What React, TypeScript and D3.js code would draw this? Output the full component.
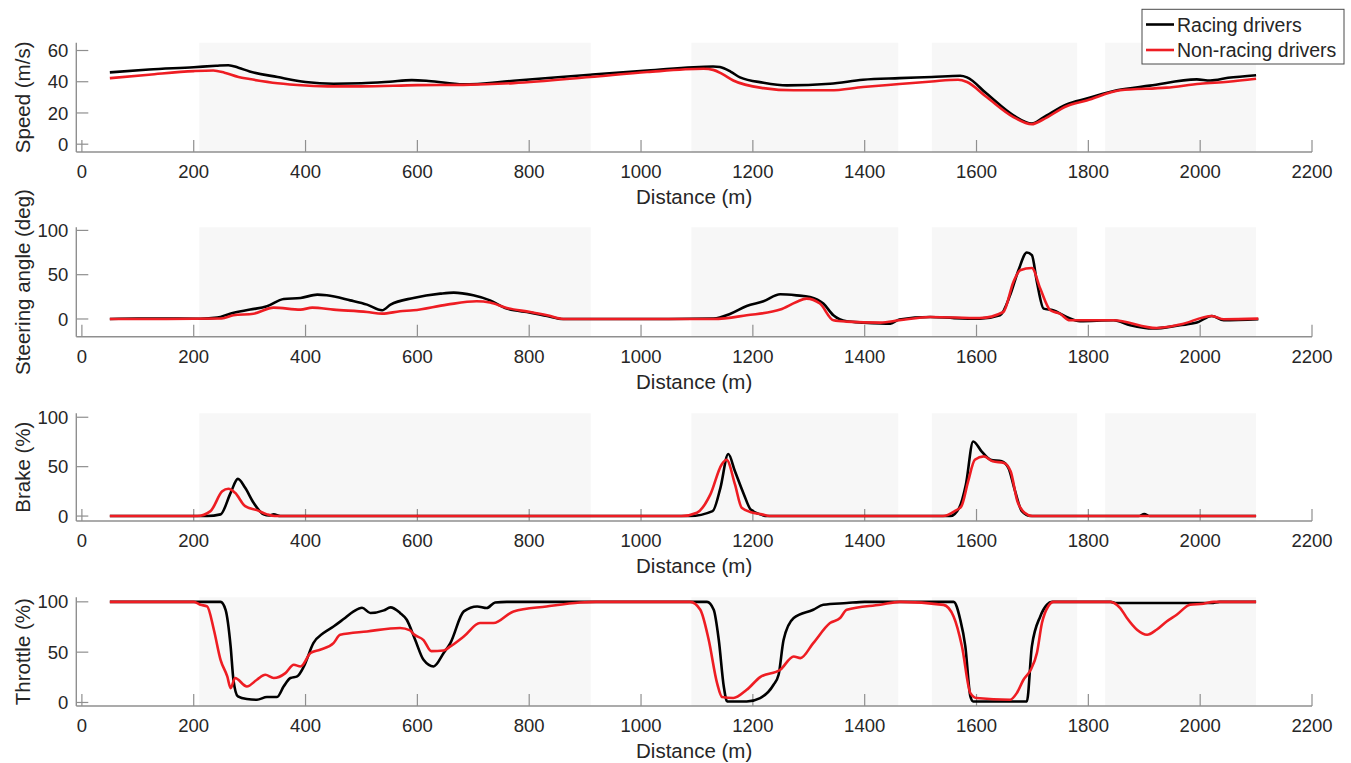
import React from 'react';
import * as d3 from 'd3';

type Pt = [number, number];

// Distance (m) vs value
const speedRacing: Pt[] = [[50,46],[120,47.8],[200,49.3],[240,50.2],[262,50.6],[280,49],[300,46.6],[350,43],[400,39.8],[450,38.7],[500,39],[550,40],[590,41],[620,40.5],[682,38.3],[772,40.6],[909,44.5],[1011,47.2],[1129,49.8],[1141,49.4],[1160,46.5],[1177,42.8],[1219,39.4],[1261,37.7],[1338,38.7],[1397,41.3],[1462,42.3],[1520,43],[1571,43.8],[1583,42.8],[1618,32.4],[1666,18.5],[1699,13.2],[1719,17],[1761,25.5],[1797,29.2],[1851,34.5],[1910,37.5],[1994,41.5],[2018,40.8],[2050,42.5],[2100,44.2]];
const speedNonRacing: Pt[] = [[50,42.3],[120,44.5],[200,46.8],[235,47.2],[255,45.8],[280,43],[300,41.7],[350,39],[400,37.6],[450,37],[500,37],[600,37.8],[682,38],[772,39.1],[909,43],[1011,46.2],[1112,48.3],[1129,47.6],[1145,45],[1165,40.8],[1219,35.9],[1273,34.5],[1338,34.5],[1397,36.6],[1462,38.5],[1520,40.2],[1567,41.3],[1583,39.8],[1618,30.2],[1666,17.4],[1699,12.8],[1719,15.8],[1761,24.3],[1797,28],[1857,34.5],[1940,36.2],[2000,38.7],[2050,40],[2100,41.9]];

const steerRacing: Pt[] = [[50,0],[100,0.5],[150,0.5],[212,0.3],[242,1.5],[265,6],[301,10.6],[331,14.3],[361,22.6],[391,23.7],[421,27.5],[438,26.7],[480,21],[510,16.2],[537,9.8],[552,16.2],[593,23.7],[641,28.6],[665,29.8],[700,26.7],[730,21],[760,11.7],[802,7.2],[832,3.4],[861,0],[950,0],[1050,0],[1130,0.5],[1160,6],[1189,14.7],[1219,20],[1249,27.9],[1278,26.7],[1302,24.8],[1326,17.4],[1344,4.2],[1368,-2.6],[1398,-4.1],[1428,-5],[1446,-5.2],[1462,-0.5],[1517,2.3],[1560,1],[1606,0.4],[1642,4.2],[1660,26.7],[1675,55],[1690,75],[1699,72],[1708,41.8],[1720,11.7],[1737,9.8],[1761,2.3],[1785,-2.6],[1845,-1.5],[1875,-7],[1916,-10.8],[1964,-7],[1994,-4.1],[2021,3.4],[2042,-1.5],[2104,-0.3]];
const steerNonRacing: Pt[] = [[50,0],[150,0],[250,0.5],[271,4.2],[307,6],[343,12.8],[391,10.6],[412,12.8],[450,10.6],[510,7.9],[537,6],[569,8.7],[593,9.8],[653,16.2],[706,20],[730,18.5],[760,12.4],[802,7.9],[832,4.2],[861,0],[1130,0],[1189,4.2],[1249,10.6],[1278,19.2],[1296,23],[1320,17.4],[1344,-1.5],[1368,-3],[1428,-4.1],[1462,-1.5],[1517,2.3],[1606,1.1],[1648,7.9],[1666,41.8],[1678,55],[1699,57.6],[1714,34.3],[1732,9.8],[1749,6],[1767,-1.5],[1845,-1.5],[1922,-10.2],[1964,-6.3],[2021,3.4],[2042,-0.3],[2104,0.4]];

const brakeRacing: Pt[] = [[50,0],[224,0],[248,1.7],[266,23.5],[279,37.6],[292,28.6],[307,13.5],[325,1.7],[335,0.5],[343,1.7],[355,0],[1087,0],[1128,5],[1142,28.6],[1156,62.8],[1168,45.3],[1184,21.9],[1196,6.7],[1216,1.2],[1225,0],[1553,0],[1569,8.4],[1581,32],[1594,75.5],[1609,65.5],[1625,57],[1645,55.4],[1657,48.7],[1669,25.2],[1681,5],[1697,0],[1890,0],[1900,2],[1910,0],[2100,0]];
const brakeNonRacing: Pt[] = [[50,0],[206,0],[230,5],[251,25],[262,27.6],[274,23.5],[292,10],[313,6],[331,1.7],[345,0],[1072,0],[1100,3.4],[1124,21.9],[1144,52],[1153,57],[1168,32],[1180,8.4],[1200,3.4],[1216,1.7],[1230,0],[1540,0],[1561,5],[1573,10],[1585,35],[1597,57],[1613,60.4],[1629,55.4],[1649,53.8],[1661,45.3],[1673,15.1],[1686,3.4],[1700,0],[2100,0]];

const throttleRacing: Pt[] = [[50,100],[248,100],[257,92],[266,55.7],[271,22.6],[279,6],[295,3.4],[313,2.7],[331,5.4],[349,5.4],[361,16],[373,24.3],[385,25.9],[397,35.8],[414,59],[432,69],[450,75.5],[468,82.9],[486,90.5],[501,94.1],[516,88.9],[540,91.5],[552,94.5],[569,89],[581,82.2],[596,62.3],[611,42.4],[629,35.8],[647,49.1],[659,59],[683,90.5],[707,95.4],[724,93.8],[739,99.4],[760,100],[1118,100],[1130,92.1],[1139,62.3],[1148,15.9],[1154,1],[1189,1],[1213,4.4],[1237,17.6],[1246,27.5],[1255,62.3],[1273,83.9],[1308,92.1],[1326,97.1],[1368,98.8],[1400,100],[1559,100],[1571,82.2],[1580,55.7],[1589,6],[1594,1],[1690,1],[1699,55.7],[1714,85.5],[1726,97.1],[1735,100],[1840,100],[1850,98.8],[2020,98.8],[2035,100],[2100,100]];
const throttleNonRacing: Pt[] = [[50,100],[200,100],[212,97.1],[224,95.4],[236,72.3],[248,42.4],[260,25.9],[266,14.3],[274,24.3],[295,15.9],[313,22.6],[328,27.5],[343,24.3],[364,29.2],[379,37.5],[391,35.8],[409,49.1],[426,52.4],[450,59],[462,67.3],[510,70.6],[569,74],[587,71.6],[593,68],[611,62],[625,51],[647,51.7],[659,55.7],[683,65.6],[712,78.9],[736,78.9],[772,90.5],[831,95.4],[891,99.4],[920,100],[1088,100],[1106,92.1],[1121,62.3],[1136,19.3],[1145,5.4],[1165,4.4],[1189,12.6],[1213,25.2],[1249,32.5],[1273,45.7],[1285,44.1],[1308,59],[1338,78.9],[1356,83.9],[1368,92.1],[1428,97.1],[1463,100],[1541,97],[1559,85.5],[1574,55.7],[1589,9.3],[1600,4.4],[1660,2.7],[1672,9.3],[1684,22.6],[1697,32.5],[1708,49.1],[1717,78.9],[1728,95.4],[1738,100],[1839,100],[1857,93.8],[1869,83.9],[1887,72.3],[1905,67.3],[1922,72.3],[1940,80.5],[1958,87.2],[1982,97.1],[2006,98.1],[2024,100],[2100,100]];

// shaded sections of the track (m)
const sections: Pt[] = [[210, 910], [1090, 1460], [1520, 1780], [1830, 2100]];
const xTicks = [0, 200, 400, 600, 800, 1000, 1200, 1400, 1600, 1800, 2000, 2200];
const legendLabels = ['Racing drivers', 'Non-racing drivers'];

interface PanelDef {
  label: string;
  top: number;
  bottom: number;
  domain: [number, number];
  ticks: number[];
  racing: Pt[];
  nonRacing: Pt[];
}

const panels: PanelDef[] = [
  { label: 'Speed (m/s)', top: 42.7, bottom: 152, domain: [-5, 65], ticks: [0, 20, 40, 60], racing: speedRacing, nonRacing: speedNonRacing },
  { label: 'Steering angle (deg)', top: 227.3, bottom: 336.7, domain: [-20, 103.5], ticks: [0, 50, 100], racing: steerRacing, nonRacing: steerNonRacing },
  { label: 'Brake (%)', top: 413.3, bottom: 521, domain: [-5, 104], ticks: [0, 50, 100], racing: brakeRacing, nonRacing: brakeNonRacing },
  { label: 'Throttle (%)', top: 597.3, bottom: 706, domain: [-3.5, 104.5], ticks: [0, 50, 100], racing: throttleRacing, nonRacing: throttleNonRacing },
];

const WIDTH = 1351;
const HEIGHT = 763;
const AX_LEFT = 76.3;
const AX_RIGHT = 1312;
const FONT = '"Liberation Sans", Arial, Helvetica, sans-serif';
const TEXT = '#262626';
const AXIS = '#8f8f8f';
const RED = '#ee1d23';
const TICK_LEN = 12;

const xScale = d3.scaleLinear().domain([-10, 2200]).range([AX_LEFT, AX_RIGHT]);

const Panel: React.FC<{ p: PanelDef }> = ({ p }) => {
  const y = d3.scaleLinear().domain(p.domain).range([p.bottom, p.top]);
  const line = d3.line<Pt>()
    .x(d => xScale(d[0]))
    .y(d => y(d[1]))
    .curve(d3.curveMonotoneX);
  const midY = (p.top + p.bottom) / 2;

  return (
    <g>
      {/* shaded sections */}
      {sections.map(([a, b]) => (
        <rect key={a} x={xScale(a)} y={p.top} width={xScale(b) - xScale(a)}
          height={p.bottom - p.top} fill="#f7f7f7" />
      ))}

      {/* axes */}
      <line x1={AX_LEFT} x2={AX_LEFT} y1={p.top} y2={p.bottom} stroke={AXIS} strokeWidth={1.4} />
      <line x1={AX_LEFT} x2={AX_RIGHT} y1={p.bottom} y2={p.bottom} stroke={AXIS} strokeWidth={1.4} />
      {xTicks.map(t => (
        <g key={t} transform={`translate(${xScale(t)},0)`}>
          <line y1={p.bottom} y2={p.bottom - TICK_LEN} stroke={AXIS} strokeWidth={1.2} />
          <text y={p.bottom + 26.3} textAnchor="middle" fontSize={18.5} fill={TEXT}>{t}</text>
        </g>
      ))}
      {p.ticks.map(t => (
        <g key={t} transform={`translate(0,${y(t)})`}>
          <line x1={AX_LEFT} x2={AX_LEFT + TICK_LEN} stroke={AXIS} strokeWidth={1.2} />
          <text x={AX_LEFT - 8} y={6.6} textAnchor="end" fontSize={18.5} fill={TEXT}>{t}</text>
        </g>
      ))}

      {/* labels */}
      <text transform={`translate(30,${midY}) rotate(-90)`} textAnchor="middle" fontSize={20.5} fill={TEXT}>
        {p.label}
      </text>
      <text x={(AX_LEFT + AX_RIGHT) / 2} y={p.bottom + 52} textAnchor="middle" fontSize={20.5} fill={TEXT}>
        Distance (m)
      </text>

      {/* data */}
      <path d={line(p.racing) || ''} fill="none" stroke="#000" strokeWidth={2.6} strokeLinejoin="round" />
      <path d={line(p.nonRacing) || ''} fill="none" stroke={RED} strokeWidth={2.6} strokeLinejoin="round" />
    </g>
  );
};

const App: React.FC = () => {
  return (
    <div style={{ position: 'absolute', left: 0, top: 0 }}>
      <svg width={WIDTH} height={HEIGHT} style={{ display: 'block', background: '#fff' }} fontFamily={FONT}>
        {panels.map(p => <Panel key={p.label} p={p} />)}

        {/* legend */}
        <g>
          <rect x={1142} y={9.3} width={202} height={54.7} fill="#fff" stroke="#4a4a4a" strokeWidth={1} />
          {legendLabels.map((lab, i) => {
            const cy = 24.5 + i * 25.5;
            return (
              <g key={lab}>
                <line x1={1146} x2={1174} y1={cy} y2={cy} stroke={i === 0 ? '#000' : RED} strokeWidth={2.6} />
                <text x={1177} y={cy + 7} fontSize={19.5} fill={TEXT}>{lab}</text>
              </g>
            );
          })}
        </g>
      </svg>
    </div>
  );
};

export default App;
